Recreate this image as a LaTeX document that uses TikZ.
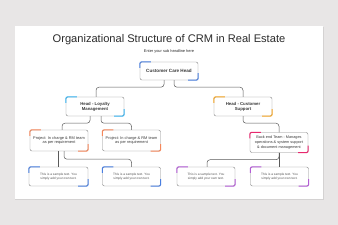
\documentclass[tikz,border=0pt]{standalone}
\usepackage{fontspec}
\setmainfont{Liberation Sans}
\usetikzlibrary{calc}
\definecolor{bg}{HTML}{E8E6E6}
\definecolor{shadowc}{HTML}{D4D2D2}
\definecolor{boxline}{HTML}{8A8A8A}
\definecolor{connc}{HTML}{5A5A5A}
\definecolor{titlec}{HTML}{2B2B2B}
\definecolor{txtc}{HTML}{3A3A3A}
\definecolor{lighttxt}{HTML}{555555}
\definecolor{cblue}{HTML}{4A7FE0}
\definecolor{ccyan}{HTML}{35B4F2}
\definecolor{cyellow}{HTML}{F6A623}
\definecolor{corange}{HTML}{F5875A}
\definecolor{cpink}{HTML}{E8286E}
\definecolor{cpurple}{HTML}{B45CD6}
\tikzset{
  orgbox/.style={draw=boxline, line width=0.45pt, rounded corners=2pt, fill=white,
    align=center, inner sep=0pt, text=txtc, font=\fontsize{3.9}{4.7}\selectfont},
  smallbox/.style={orgbox, minimum width=58pt, minimum height=19pt, text=lighttxt, font=\fontsize{3.2}{4}\selectfont},
  conn/.style={draw=connc, line width=0.5pt, rounded corners=3pt},
  accentline/.style={line width=1pt, rounded corners=2pt, line cap=butt}
}
\newcommand{\boxaccent}[2]{%
  \draw[accentline,#2] ([xshift=11pt]#1.north west) -- (#1.north west) -- ([yshift=-6pt]#1.north west);
  \draw[accentline,#2] ([xshift=-10pt]#1.south east) -- (#1.south east) -- ([yshift=7pt]#1.south east);
}
\begin{document}
\begin{tikzpicture}[x=1pt,y=-1pt]
\useasboundingbox (0,0) rectangle (338,225);
\fill[bg] (0,0) rectangle (338,225);
\fill[shadowc] (15.3,26.8) rectangle (323.6,200.2);
\fill[white] (15,26) rectangle (323,199);
\node[text=titlec, font=\fontsize{11.1}{12.5}\selectfont] (title) at (169,40) {Organizational Structure of CRM in Real Estate};
\node[text=titlec, font=\fontsize{3.9}{4.5}\selectfont] (sub) at (169,51) {Enter your sub headline here};

\node[orgbox, minimum width=58pt, minimum height=18pt, font=\fontsize{4.6}{5.5}\selectfont\bfseries] (cch) at (169,71) {Customer Care Head};
\node[orgbox, minimum width=58pt, minimum height=19pt, font=\fontsize{4.3}{5.2}\selectfont\bfseries] (hl) at (95,106.5) {Head - Loyalty\\Management};
\node[orgbox, minimum width=58pt, minimum height=19pt, font=\fontsize{4.3}{5.2}\selectfont\bfseries] (hcs) at (243,106.5) {Head - Customer\\Support};
\node[orgbox, minimum width=58pt, minimum height=21pt] (p1) at (59,140.5) {Project: In charge \& RM team\\as per requirement};
\node[orgbox, minimum width=58pt, minimum height=21pt] (p2) at (131.5,140.5) {Project: In charge \& RM team\\as per requirement};
\node[orgbox, minimum width=58pt, minimum height=20pt, font=\fontsize{3.8}{4.6}\selectfont] (be) at (279,142.5) {Back end Team - Manages\\operations \& system support\\\& document management};
\node[smallbox, minimum width=59pt] (b1) at (58.5,176.5) {This is a sample text. You\\simply add your own text.};
\node[smallbox] (b2) at (131.5,176.5) {This is a sample text. You\\simply add your own text.};
\node[smallbox] (b3) at (206,176.5) {This is a sample text. You\\simply add your own text.};
\node[smallbox] (b4) at (279.5,176.5) {This is a sample text. You\\simply add your own text.};

\boxaccent{cch}{cblue}
\boxaccent{hl}{ccyan}
\boxaccent{hcs}{cyellow}
\boxaccent{p1}{corange}
\boxaccent{p2}{corange}
\boxaccent{be}{cpink}
\boxaccent{b1}{cblue}
\boxaccent{b2}{cblue}
\boxaccent{b3}{cpurple}
\boxaccent{b4}{cpurple}

\draw[conn] ([xshift=-5pt]cch.south) -- ++(0,7) -| ([xshift=1pt]hl.north);
\draw[conn] ([xshift=5pt]cch.south) -- ++(0,7) -| (hcs.north);
\draw[conn] ([xshift=-5pt]hl.south) -- ++(0,7) -| ([xshift=3pt]p1.north);
\draw[conn] ([xshift=6pt]hl.south) -- ++(0,7) -| (p2.north);
\draw[conn] (hcs.south) -- ++(0,7) -| (be.north);
\draw[conn] (be.south) -- (be.south |- b4.north);
\draw[conn] (be.south) -- ++(0,7) -| ([xshift=1pt]b3.north);
\draw[conn] ([xshift=-1pt]p1.south) -- ([xshift=-1pt]p1.south |- b1.north);
\draw[conn] ([xshift=5pt]p1.south) -- ++(0,8) -| (b2.north);
\end{tikzpicture}
\end{document}
